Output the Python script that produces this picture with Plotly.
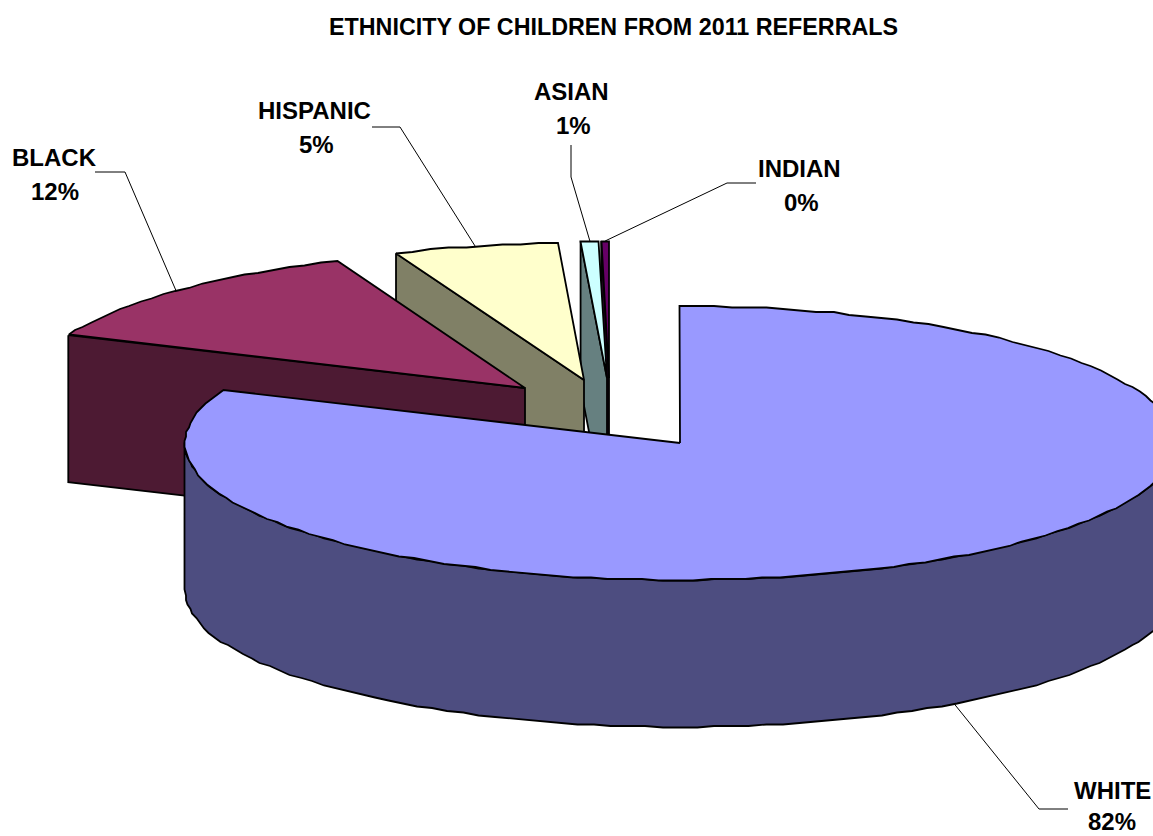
import numpy as np
import plotly.graph_objects as go

# ---- data ----
categories = ["WHITE", "BLACK", "HISPANIC", "ASIAN", "INDIAN"]
shares = [81.3, 12.5, 5.35, 0.6, 0.25]
percent_labels = ["82%", "12%", "5%", "1%", "0%"]
title = "ETHNICITY OF CHILDREN FROM 2011 REFERRALS"

# ---- style ----
top_colors = ["#9999FF", "#993366", "#FFFFCC", "#CCFFFF", "#660066"]
wall_colors = ["#4D4D80", "#4D1A33", "#808066", "#668080", "#330033"]

# ---- layout of the projected pie (pixels) ----
W, H = 1153, 836
RX, RY, DEPTH = 495, 137, 147
apex_x = [680, 525, 584, 607, 609]
apex_y = [443, 388, 380, 378, 378]
elbow_x = [1039, 125, 400, 571, 727]
elbow_y = [809, 172, 127, 177, 183]
tail_x = [1068, 95, 372, 571, 756]
tail_y = [809, 172, 127, 145, 183]
name_x = [1112, 54, 314, 571, 799]
name_y = [790, 157, 110, 91, 168]
pct_x = [1112, 55, 316, 573, 801]
pct_y = [821, 191, 144, 125, 202]
FONT = "Liberation Sans, Arial, sans-serif"
LABEL_SIZE = 24
TITLE_SIZE = 23.3
GRID = 1.5  # the rim is drawn on a pixel grid, which gives its slightly stepped outline

edges = np.concatenate([[0], np.cumsum(shares)]) / sum(shares) * 2 * np.pi


def rim(i, a, b, dz=0.0, step=np.radians(2.0)):
    n = max(2, int(abs(b - a) / step) + 1)
    t = np.linspace(a, b, n)
    x = apex_x[i] + RX * np.sin(t)
    y = apex_y[i] - RY * np.cos(t) + dz
    return np.round(x / GRID) * GRID, np.round(y / GRID) * GRID


def poly(fig, x, y, color, name):
    fig.add_trace(go.Scatter(
        x=list(x) + [x[0]], y=list(y) + [y[0]], mode="lines", fill="toself",
        fillcolor=color, line=dict(color="black", width=1.8), name=name,
        hoverinfo="name", showlegend=False))


fig = go.Figure()

# back to front: INDIAN, ASIAN, HISPANIC, BLACK, WHITE
for i in [4, 3, 2, 1]:
    a, b = edges[i], edges[i + 1]
    ex = apex_x[i] + RX * np.sin(a)
    ey = apex_y[i] - RY * np.cos(a)
    poly(fig, [ex, apex_x[i], apex_x[i], ex],
         [ey, apex_y[i], apex_y[i] + DEPTH, ey + DEPTH],
         wall_colors[i], categories[i])
    rx, ry = rim(i, a, b)
    poly(fig, [apex_x[i]] + list(rx), [apex_y[i]] + list(ry),
         top_colors[i], categories[i])

# WHITE: round outer wall, then top
tx, ty = rim(0, np.pi / 2, 3 * np.pi / 2)
bx, by = rim(0, 3 * np.pi / 2, np.pi / 2, dz=DEPTH)
poly(fig, list(tx) + list(bx), list(ty) + list(by), wall_colors[0], categories[0])
rx, ry = rim(0, edges[0], edges[1])
poly(fig, [apex_x[0]] + list(rx), [apex_y[0]] + list(ry), top_colors[0], categories[0])

# leader lines, anchored at each slice's mid angle
for i in range(len(categories)):
    mid = (edges[i] + edges[i + 1]) / 2
    ax = apex_x[i] + RX * np.sin(mid)
    ay = apex_y[i] - RY * np.cos(mid)
    if np.cos(mid) < 0:
        ay += DEPTH
    fig.add_trace(go.Scatter(
        x=[ax, elbow_x[i], tail_x[i]], y=[ay, elbow_y[i], tail_y[i]], mode="lines",
        line=dict(color="black", width=1), hoverinfo="skip", showlegend=False))

anns = [dict(x=613, y=27, text=f"<b>{title}</b>",
             font=dict(family=FONT, size=TITLE_SIZE, color="black"))]
for i, c in enumerate(categories):
    anns.append(dict(x=name_x[i], y=name_y[i], text=f"<b>{c}</b>",
                     font=dict(family=FONT, size=LABEL_SIZE, color="black")))
    anns.append(dict(x=pct_x[i], y=pct_y[i], text=f"<b>{percent_labels[i]}</b>",
                     font=dict(family=FONT, size=LABEL_SIZE, color="black")))
for a in anns:
    a.update(xref="x", yref="y", showarrow=False, xanchor="center", yanchor="middle")

fig.update_layout(
    width=W, height=H, margin=dict(l=0, r=0, t=0, b=0),
    paper_bgcolor="white", plot_bgcolor="white", annotations=anns,
    xaxis=dict(range=[0, W], visible=False, fixedrange=True),
    yaxis=dict(range=[H, 0], visible=False, fixedrange=True),
)
fig.write_html("out.html", config={"displayModeBar": False},
               post_script="document.body.style.margin='0';")
